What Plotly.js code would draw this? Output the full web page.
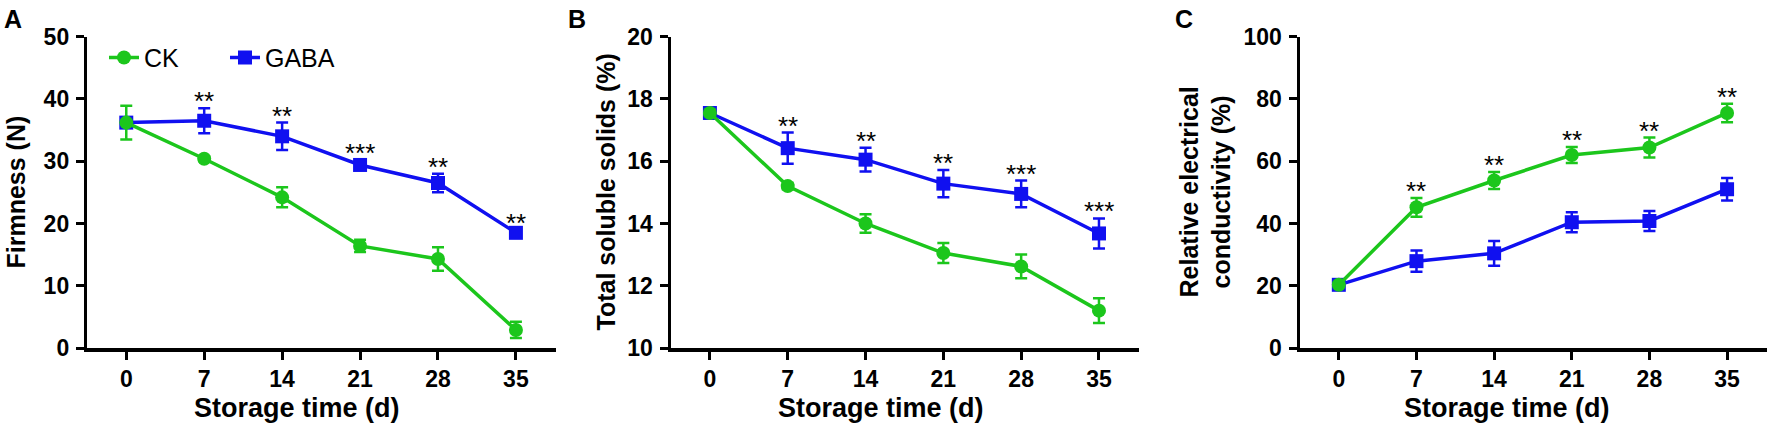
<!DOCTYPE html>
<html>
<head>
<meta charset="utf-8">
<script src="https://cdn.plot.ly/plotly-3.0.1.min.js"></script>
<style>
  html, body { margin: 0; padding: 0; background: #fff; }
  #chart { width: 1772px; height: 426px; }
</style>
</head>
<body>
<div id="chart"></div>
<script>
'use strict';

// storage time, days
const days = [0, 7, 14, 21, 28, 35];
const dayLabels = ['0', '7', '14', '21', '28', '35'];

// A: firmness (N)
const firmCK = [36.2, 30.4, 24.2, 16.4, 14.3, 2.9];
const firmCKErr = [2.7, 0.4, 1.6, 1.0, 1.9, 1.3];
const firmGABA = [36.2, 36.5, 34.0, 29.4, 26.5, 18.5];
const firmGABAErr = [0.6, 2.0, 2.2, 0.8, 1.5, 0.5];
const firmSig = ['', '**', '**', '***', '**', '**'];

// B: total soluble solids (%)
const tssCK = [17.55, 15.2, 14.0, 13.05, 12.62, 11.2];
const tssCKErr = [0.1, 0.1, 0.3, 0.32, 0.38, 0.4];
const tssGABA = [17.55, 16.42, 16.05, 15.28, 14.95, 13.68];
const tssGABAErr = [0.1, 0.5, 0.38, 0.44, 0.43, 0.48];
const tssSig = ['', '**', '**', '**', '***', '***'];

// C: relative electrical conductivity (%)
const recCK = [20.3, 45.2, 53.8, 62.0, 64.4, 75.5];
const recCKErr = [0.8, 3.0, 2.7, 2.6, 3.2, 3.0];
const recGABA = [20.3, 27.9, 30.4, 40.4, 40.8, 51.0];
const recGABAErr = [0.8, 3.4, 4.0, 3.2, 3.2, 3.6];
const recSig = ['', '**', '**', '**', '**', '**'];

const GREEN = '#1cc61c';
const BLUE = '#1010f0';
const FONT = '"Liberation Sans", Arial, Helvetica, sans-serif';
const W = 1772, H = 426;

function series(name, y, err, color, symbol, n, show) {
    return {
        type: 'scatter',
        mode: 'lines+markers',
        name: name,
        legendgroup: name,
        showlegend: show,
        x: days,
        y: y,
        xaxis: 'x' + (n === 1 ? '' : n),
        yaxis: 'y' + (n === 1 ? '' : n),
        line: {color: color, width: 3.5},
        marker: {color: color, symbol: symbol, size: 14},
        error_y: {type: 'data', array: err, visible: true, color: color, thickness: 2.5, width: 6},
        cliponaxis: false
    };
}

function xAxis(domain, n) {
    return {
        domain: domain,
        anchor: 'y' + (n === 1 ? '' : n),
        range: [-3.5, 38.6],
        tickmode: 'array',
        tickvals: days,
        ticktext: dayLabels,
        ticks: 'outside', ticklen: 8, tickwidth: 3, tickcolor: '#000',
        ticklabelstandoff: 0,
        showline: true, linewidth: 3.5, linecolor: '#000',
        showgrid: false, zeroline: false,
        tickfont: {family: FONT, size: 23, color: '#000', weight: 'bold'},
        fixedrange: true
    };
}

function yAxis(range, dtick, n) {
    return {
        domain: [(H - 348) / H, (H - 36.7) / H],
        anchor: 'x' + (n === 1 ? '' : n),
        range: range,
        dtick: dtick,
        tick0: range[0],
        ticks: 'outside', ticklen: 8, tickwidth: 3, tickcolor: '#000',
        ticklabelstandoff: 2,
        showline: true, linewidth: 3.5, linecolor: '#000',
        showgrid: false, zeroline: false,
        tickfont: {family: FONT, size: 23, color: '#000', weight: 'bold'},
        fixedrange: true
    };
}

// significance stars above the upper error bar of the reference series
function stars(sig, y, err, n) {
    return sig.map((s, i) => ({
        text: s,
        x: days[i],
        y: y[i] + err[i],
        xref: 'x' + (n === 1 ? '' : n),
        yref: 'y' + (n === 1 ? '' : n),
        showarrow: false,
        xanchor: 'center',
        yanchor: 'middle',
        yshift: 7,
        font: {family: FONT, size: 26, color: '#000'}
    })).filter(a => a.text !== '');
}

function label(text, px, py, opts) {
    return Object.assign({
        text: text,
        x: px / W, y: 1 - py / H,
        xref: 'paper', yref: 'paper',
        xanchor: 'center', yanchor: 'middle',
        showarrow: false,
        font: {family: FONT, size: 25, color: '#000', weight: 'bold'}
    }, opts || {});
}

const panelFont = {family: FONT, size: 25, color: '#000', weight: 'bold'};
const xTitleFont = {family: FONT, size: 27, color: '#000', weight: 'bold'};

const data = [
    series('GABA', firmGABA, firmGABAErr, BLUE, 'square', 1, true),
    series('CK', firmCK, firmCKErr, GREEN, 'circle', 1, true),
    series('GABA', tssGABA, tssGABAErr, BLUE, 'square', 2, false),
    series('CK', tssCK, tssCKErr, GREEN, 'circle', 2, false),
    series('GABA', recGABA, recGABAErr, BLUE, 'square', 3, false),
    series('CK', recCK, recCKErr, GREEN, 'circle', 3, false)
];

const annotations = []
    .concat(stars(firmSig, firmGABA, firmGABAErr, 1))
    .concat(stars(tssSig, tssGABA, tssGABAErr, 2))
    .concat(stars(recSig, recCK, recCKErr, 3))
    .concat([
        label('A', 2, 3, {xanchor: 'left', yanchor: 'top', font: panelFont}),
        label('B', 566, 3, {xanchor: 'left', yanchor: 'top', font: panelFont}),
        label('C', 1173, 3, {xanchor: 'left', yanchor: 'top', font: panelFont}),
        label('Firmness (N)', 15, 192.5, {textangle: -90}),
        label('Total soluble solids (%)', 605, 192.5, {textangle: -90}),
        label('Relative electrical<br>conductivity (%)', 1205, 192.5, {textangle: -90}),
        label('Storage time (d)', 297, 408, {font: xTitleFont}),
        label('Storage time (d)', 881, 408, {font: xTitleFont}),
        label('Storage time (d)', 1507, 408, {font: xTitleFont})
    ]);

const layout = {
    width: W,
    height: H,
    margin: {l: 0, r: 0, t: 0, b: 0},
    paper_bgcolor: '#fff',
    plot_bgcolor: '#fff',
    font: {family: FONT, color: '#000'},
    showlegend: true,
    legend: {
        orientation: 'h',
        x: 104 / W, xanchor: 'left',
        y: 1 - 57.7 / H, yanchor: 'middle',
        traceorder: 'reversed',
        bgcolor: 'rgba(0,0,0,0)',
        font: {family: FONT, size: 25, color: '#000'},
        entrywidth: 76,
        entrywidthmode: 'pixels'
    },
    xaxis: xAxis([87.3 / W, 556 / W], 1),
    yaxis: yAxis([0, 50], 10, 1),
    xaxis2: xAxis([671 / W, 1139 / W], 2),
    yaxis2: yAxis([10, 20], 2, 2),
    xaxis3: xAxis([1300 / W, 1767 / W], 3),
    yaxis3: yAxis([0, 100], 20, 3),
    annotations: annotations
};

Plotly.newPlot('chart', data, layout, {staticPlot: true, displayModeBar: false});
</script>
</body>
</html>
